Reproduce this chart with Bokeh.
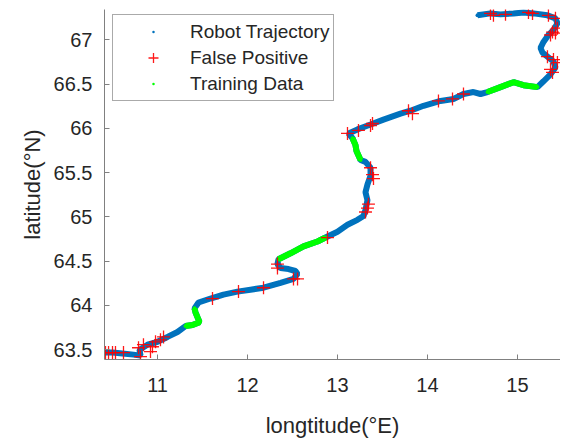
from bokeh.plotting import figure
from bokeh.models import Range1d, FixedTicker, Legend, LegendItem, CustomJSTickFormatter
from bokeh.embed import file_html
from bokeh.resources import INLINE

# Robot trajectory (longitude, latitude), in travel order
traj_lon = [10.411, 10.500, 10.611, 10.733, 10.811, 10.800, 10.889, 11.000, 11.111, 11.222,
            11.311, 11.389, 11.467, 11.444, 11.422, 11.411, 11.456, 11.589, 11.733, 11.889,
            12.033, 12.178, 12.367, 12.511, 12.556, 12.533, 12.456, 12.367, 12.333, 12.344,
            12.478, 12.622, 12.778, 12.867, 13.000, 13.111, 13.222, 13.289, 13.311, 13.333,
            13.311, 13.333, 13.367, 13.367, 13.311, 13.256, 13.211, 13.200, 13.167, 13.122,
            13.222, 13.367, 13.511, 13.700, 13.811, 13.956, 14.144, 14.289, 14.400, 14.511,
            14.589, 14.667, 14.811, 14.956, 15.067, 15.222, 15.289, 15.367, 15.422, 15.400,
            15.333, 15.278, 15.256, 15.289, 15.344, 15.400, 15.444, 15.422, 15.333, 15.178,
            15.067, 14.956, 14.811, 14.700, 14.556]
traj_lat = [63.467, 63.467, 63.456, 63.444, 63.433, 63.500, 63.556, 63.589, 63.644, 63.700,
            63.767, 63.778, 63.811, 63.867, 63.922, 63.967, 64.033, 64.078, 64.122, 64.156,
            64.178, 64.200, 64.256, 64.300, 64.356, 64.389, 64.411, 64.422, 64.467, 64.522,
            64.589, 64.667, 64.722, 64.767, 64.833, 64.911, 64.967, 65.011, 65.078, 65.189,
            65.278, 65.367, 65.467, 65.556, 65.622, 65.644, 65.744, 65.811, 65.889, 65.944,
            65.989, 66.044, 66.100, 66.167, 66.200, 66.256, 66.311, 66.333, 66.389, 66.411,
            66.389, 66.411, 66.467, 66.522, 66.489, 66.467, 66.533, 66.611, 66.689, 66.756,
            66.811, 66.856, 66.911, 66.978, 67.056, 67.111, 67.189, 67.244, 67.278, 67.300,
            67.311, 67.300, 67.289, 67.300, 67.278]

# Training data segments
train1_lon = [11.311, 11.389, 11.467, 11.444, 11.422, 11.411]
train1_lat = [63.767, 63.778, 63.811, 63.867, 63.922, 63.967]
train2_lon = [12.344, 12.478, 12.622, 12.778, 12.867]
train2_lat = [64.522, 64.589, 64.667, 64.722, 64.767]
train3_lon = [13.256, 13.211, 13.200, 13.167]
train3_lat = [65.644, 65.744, 65.811, 65.889]
train4_lon = [14.667, 14.811, 14.956, 15.067, 15.222]
train4_lat = [66.411, 66.467, 66.522, 66.489, 66.467]

# False positives
fp_lon = [10.422, 10.456, 10.500, 10.533, 10.622, 10.811, 10.789, 10.844, 10.922, 10.944,
          10.978, 11.033, 11.067, 11.611, 11.900, 12.178, 12.511, 12.556, 12.333, 12.333,
          12.889, 13.111, 13.233, 13.367, 13.389, 13.367, 13.389, 13.400, 13.344, 13.333,
          13.311, 13.789, 13.833, 14.122, 14.278, 14.400, 14.700, 14.733, 14.867, 15.122,
          15.167, 15.344, 15.422, 15.389, 15.422, 15.444, 15.367, 15.333, 15.400, 15.444,
          15.367, 15.389]
fp_lat = [63.467, 63.467, 63.467, 63.467, 63.467, 63.422, 63.522, 63.556, 63.478, 63.533,
          63.589, 63.611, 63.644, 64.078, 64.156, 64.200, 64.300, 64.300, 64.467, 64.422,
          64.767, 65.944, 65.978, 66.033, 66.056, 65.556, 65.478, 65.433, 65.144, 65.100,
          65.056, 66.200, 66.167, 66.311, 66.333, 66.389, 67.300, 67.278, 67.289, 67.311,
          67.300, 67.278, 67.244, 67.089, 67.078, 67.133, 67.056, 66.811, 66.778, 66.744,
          66.667, 66.633]

x_ticks = [11, 12, 13, 14, 15]
y_ticks = [63.5, 64, 64.5, 65, 65.5, 66, 66.5, 67]

BLUE = "#0072BD"
GREEN = "#00FF00"
RED = "#FF0000"
FONT = "Liberation Sans"
TXT = "#262626"

p = figure(width=560, height=440, x_range=Range1d(10.411, 15.478), y_range=Range1d(63.389, 67.344),
           output_backend="svg", toolbar_location=None,
           min_border_left=104, min_border_right=0, min_border_top=9, min_border_bottom=75)
p.outline_line_color = None
p.xgrid.visible = False
p.ygrid.visible = False

p.line(traj_lon, traj_lat, line_color=BLUE, line_width=6)
traj_pts = p.scatter(traj_lon, traj_lat, marker="dot", size=16, line_color=BLUE, fill_color=BLUE)
green_pts = None
for lo, la in [(train1_lon, train1_lat), (train2_lon, train2_lat), (train3_lon, train3_lat), (train4_lon, train4_lat)]:
    p.line(lo, la, line_color=GREEN, line_width=6)
    r = p.scatter(lo, la, marker="dot", size=16, line_color=GREEN, fill_color=GREEN)
    if green_pts is None:
        green_pts = r
fp_pts = p.scatter(fp_lon, fp_lat, marker="cross", size=13, line_color=RED, line_width=1.3, line_alpha=0.9)

legend = Legend(items=[LegendItem(label="Robot Trajectory", renderers=[traj_pts]),
                       LegendItem(label="False Positive", renderers=[fp_pts]),
                       LegendItem(label="Training Data", renderers=[green_pts])],
                location=(8, 258), padding=4, spacing=1, glyph_width=72, glyph_height=25,
                label_standoff=1, label_text_font=FONT, label_text_font_size="19px",
                label_text_color=TXT, border_line_color="#555555", border_line_width=1,
                background_fill_color="white", background_fill_alpha=1.0, margin=0)
p.add_layout(legend)

for ax in (p.xaxis[0], p.yaxis[0]):
    ax.major_tick_in = 5
    ax.major_tick_out = 0
    ax.minor_tick_line_color = None
    ax.axis_line_color = "#808080"
    ax.major_tick_line_color = "#808080"
    ax.major_label_text_font = FONT
    ax.major_label_text_font_size = "20px"
    ax.major_label_text_color = TXT
    ax.axis_label_text_font = FONT
    ax.axis_label_text_font_size = "22px"
    ax.axis_label_text_font_style = "normal"
    ax.axis_label_text_color = TXT
    ax.formatter = CustomJSTickFormatter(code="return tick.toString();")

p.xaxis.ticker = FixedTicker(ticks=x_ticks)
p.yaxis.ticker = FixedTicker(ticks=y_ticks)
p.xaxis.axis_label = "longtitude(°E)"
p.yaxis.axis_label = "latitude(°N)"
p.xaxis.major_label_standoff = 18
p.yaxis.major_label_standoff = 12
p.xaxis.axis_label_standoff = 18
p.yaxis.axis_label_standoff = 6

open("out.html", "w").write(file_html(p, INLINE))
